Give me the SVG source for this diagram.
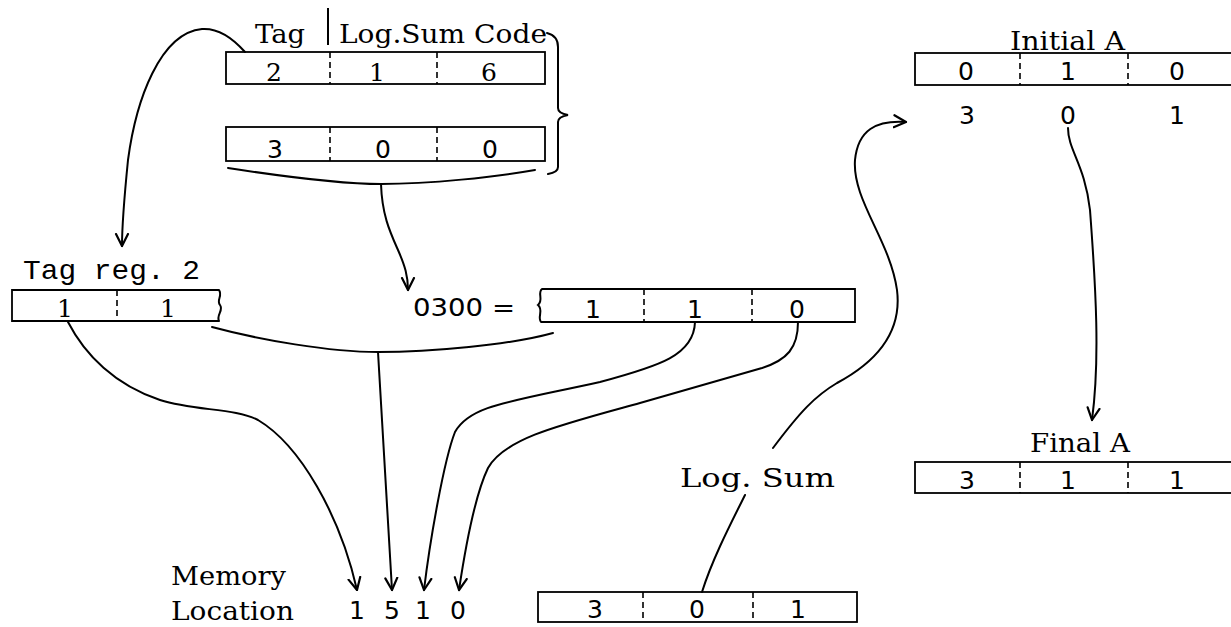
<svg xmlns="http://www.w3.org/2000/svg" width="1231" height="627" viewBox="0 0 1231 627">
<style>
.bx{fill:none;stroke:#000;stroke-width:1.8}
.dv{stroke:#000;stroke-width:1.6;stroke-dasharray:6 4}
.ln{fill:none;stroke:#000;stroke-width:2;stroke-linecap:round}
.lbl{font-family:"DejaVu Serif","Liberation Serif",serif;font-size:26px;fill:#000}
.mono{font-family:"Liberation Mono","DejaVu Sans Mono",monospace;font-size:28px;fill:#000}
.dig{font-family:"DejaVu Sans","Liberation Sans",sans-serif;font-size:25px;text-anchor:middle;fill:#000}
.sdig{font-family:"DejaVu Serif","Liberation Serif",serif;font-size:25px;text-anchor:middle;fill:#000}
</style>
<defs>
<marker id="ah" viewBox="-13 -8 15 16" refX="0" refY="0" markerWidth="15" markerHeight="16" markerUnits="userSpaceOnUse" orient="auto">
<path d="M-12,-6 L0,0 L-12,6" fill="none" stroke="#000" stroke-width="2.2" stroke-linecap="round" stroke-linejoin="round"/>
</marker>
</defs>
<rect width="1231" height="627" fill="#fff"/>

<g id="header">
<text class="lbl" x="255" y="43" textLength="50" lengthAdjust="spacingAndGlyphs">Tag</text>
<line x1="328" y1="8" x2="328" y2="45" stroke="#000" stroke-width="2"/>
<text class="lbl" x="339" y="43" textLength="208" lengthAdjust="spacingAndGlyphs">Log.Sum Code</text>
</g>

<g id="instr-word-1">
<rect class="bx" x="226" y="52" width="319" height="32"/>
<line class="dv" x1="330" y1="52" x2="330" y2="84"/>
<line class="dv" x1="437" y1="52" x2="437" y2="84"/>
<text class="sdig" x="274" y="81">2</text>
<text class="sdig" x="377" y="81">1</text>
<text class="sdig" x="489" y="81">6</text>
</g>

<g id="instr-word-2">
<rect class="bx" x="226" y="127" width="319" height="34"/>
<line class="dv" x1="330" y1="127" x2="330" y2="161"/>
<line class="dv" x1="437" y1="127" x2="437" y2="161"/>
<text class="dig" x="275" y="158">3</text>
<text class="dig" x="383" y="158">0</text>
<text class="dig" x="490" y="158">0</text>
</g>

<g id="tag-reg-2">
<text class="mono" x="23" y="279" textLength="177" lengthAdjust="spacingAndGlyphs">Tag reg. 2</text>
<path class="bx" d="M219,290 L12,290 L12,321 L219,321"/>
<path class="ln" d="M219,290 C223,296 216,300 220,305 C224,310 216,315 219,321"/>
<line class="dv" x1="117" y1="290" x2="117" y2="321"/>
<text class="sdig" x="65" y="317">1</text>
<text class="sdig" x="168" y="317">1</text>
</g>

<g id="reg-0300">
<text class="dig" x="413" y="316" style="text-anchor:start" textLength="102" lengthAdjust="spacingAndGlyphs">0300 =</text>
<path class="bx" d="M542,289 L855,289 L855,322 L541,322"/>
<path class="ln" d="M542,289 C537,293 544,300 538,305 C544,310 537,317 541,322"/>
<line class="dv" x1="644" y1="289" x2="644" y2="322"/>
<line class="dv" x1="752" y1="289" x2="752" y2="322"/>
<text class="dig" x="593" y="318">1</text>
<text class="dig" x="695" y="318">1</text>
<text class="dig" x="797" y="318">0</text>
</g>

<g id="initial-a">
<text class="lbl" x="1010" y="50" textLength="115" lengthAdjust="spacingAndGlyphs">Initial A</text>
<rect class="bx" x="915" y="53" width="330" height="32"/>
<line class="dv" x1="1020" y1="53" x2="1020" y2="85"/>
<line class="dv" x1="1128" y1="53" x2="1128" y2="85"/>
<text class="dig" x="966" y="80">0</text>
<text class="dig" x="1068" y="80">1</text>
<text class="dig" x="1177" y="80">0</text>
<text class="dig" x="967" y="124">3</text>
<text class="dig" x="1068" y="124">0</text>
<text class="dig" x="1177" y="124">1</text>
</g>

<g id="final-a">
<text class="lbl" x="1030" y="452" textLength="100" lengthAdjust="spacingAndGlyphs">Final A</text>
<rect class="bx" x="915" y="462" width="330" height="31"/>
<line class="dv" x1="1020" y1="462" x2="1020" y2="493"/>
<line class="dv" x1="1128" y1="462" x2="1128" y2="493"/>
<text class="dig" x="967" y="489">3</text>
<text class="dig" x="1068" y="489">1</text>
<text class="dig" x="1177" y="489">1</text>
</g>

<g id="log-sum">
<text class="lbl" x="680" y="487" textLength="155" lengthAdjust="spacingAndGlyphs">Log.  Sum</text>
</g>

<g id="log-sum-reg">
<rect class="bx" x="538" y="592" width="319" height="30"/>
<line class="dv" x1="643" y1="592" x2="643" y2="622"/>
<line class="dv" x1="753" y1="592" x2="753" y2="622"/>
<text class="dig" x="595" y="618">3</text>
<text class="dig" x="697" y="618">0</text>
<text class="dig" x="798" y="618">1</text>
</g>

<g id="memory-location">
<text class="lbl" x="171" y="585" textLength="115" lengthAdjust="spacingAndGlyphs">Memory</text>
<text class="lbl" x="171" y="620" textLength="123" lengthAdjust="spacingAndGlyphs">Location</text>
<text class="dig" x="357" y="619">1</text>
<text class="dig" x="392" y="619">5</text>
<text class="dig" x="423" y="619">1</text>
<text class="dig" x="458" y="619">0</text>
</g>

<g id="connectors">
<path class="ln" d="M547,33 C555,35 558,40 558,47 L558,108 C558,112 562,114 568,115 C562,116 558,118 558,122 L558,167 C558,171 554,173 548,174"/>
<path class="ln" d="M228,168 C280,176 340,184 381,184 C430,184 495,177 535,170"/>
<path class="ln" d="M212,327 C260,340 330,352 378,352 C430,352 510,345 553,333"/>
<path class="ln" marker-end="url(#ah)" d="M245,52 C230,35 216,28 202,29 C160,33 136,100 128,160 C124,200 122,225 122,246"/>
<path class="ln" marker-end="url(#ah)" d="M381,184 C382,215 390,232 398,250 C405,266 408,276 408,290"/>
<path class="ln" marker-end="url(#ah)" d="M68,322 C85,355 115,385 160,400 C195,411 235,408 258,420 C300,445 340,515 357,590"/>
<path class="ln" marker-end="url(#ah)" d="M378,352 L392,590"/>
<path class="ln" marker-end="url(#ah)" d="M695,322 C694,355 660,366 600,382 C510,402 470,405 455,432 C444,460 430,540 424,590"/>
<path class="ln" marker-end="url(#ah)" d="M798,322 C798,348 787,360 762,368 L640,403 C560,425 505,438 488,468 C475,495 465,550 459,590"/>
<path class="ln" marker-end="url(#ah)" d="M773,448 C800,412 815,396 837,383 C880,360 902,330 897,290 C890,240 852,200 855,160 C858,130 876,120 906,122"/>
<path class="ln" marker-end="url(#ah)" d="M1068,128 C1068,150 1085,165 1090,210 C1096,290 1100,360 1092,420"/>
<path class="ln" d="M745,495 C730,525 712,560 702,592"/>
</g>
</svg>
